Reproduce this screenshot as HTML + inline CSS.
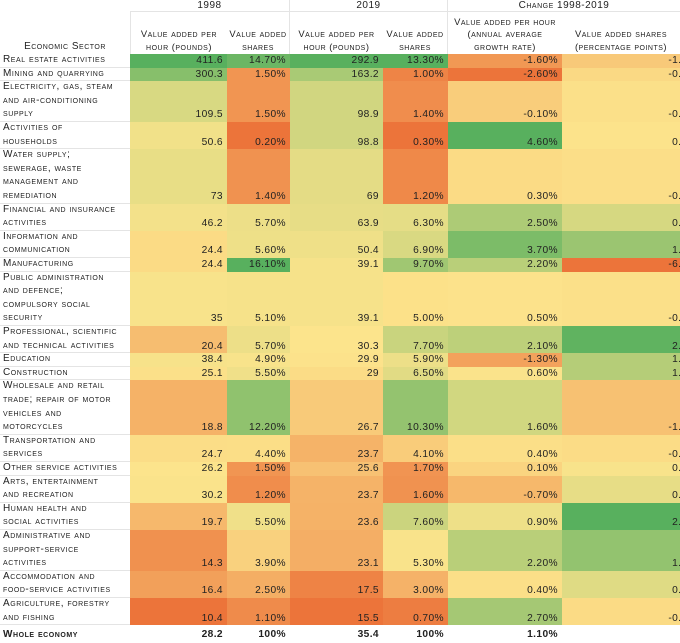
<!DOCTYPE html>
<html><head><meta charset="utf-8">
<style>
html,body{margin:0;padding:0;background:#fff;width:680px;height:643px;overflow:hidden;}
#wrap{position:relative;width:680px;height:643px;overflow:hidden;font-family:"Liberation Sans",sans-serif;color:#222;}
.c{position:absolute;box-sizing:border-box;white-space:nowrap;}
.lab{font-variant:small-caps;font-size:10px;line-height:13.6px;letter-spacing:0.55px;padding-left:3px;display:flex;align-items:flex-end;border-bottom:1px solid #e4e4e4;}
.num{font-size:10.2px;line-height:13.6px;text-align:right;padding-right:4px;display:flex;align-items:flex-end;justify-content:flex-end;letter-spacing:0.4px;}
.hd{font-variant:small-caps;font-size:9.4px;line-height:12.5px;letter-spacing:0.5px;text-align:center;display:flex;align-items:flex-end;justify-content:center;padding-bottom:1px;}
.top{font-size:10px;line-height:12px;padding:0;align-items:center;}
.bold{font-weight:bold;}
</style></head><body>
<div id="wrap"></div>
<script>
const sectors=["Real estate activities","Mining and quarrying","Electricity, gas, steam<br>and air-conditioning<br>supply","Activities of<br>households","Water supply;<br>sewerage, waste<br>management and<br>remediation","Financial and insurance<br>activities","Information and<br>communication","Manufacturing","Public administration<br>and defence;<br>compulsory social<br>security","Professional, scientific<br>and technical activities","Education","Construction","Wholesale and retail<br>trade; repair of motor<br>vehicles and<br>motorcycles","Transportation and<br>services","Other service activities","Arts, entertainment<br>and recreation","Human health and<br>social activities","Administrative and<br>support-service<br>activities","Accommodation and<br>food-service activities","Agriculture, forestry<br>and fishing"];
const vaph1998=[411.6,300.3,109.5,50.6,73,46.2,24.4,24.4,35,20.4,38.4,25.1,18.8,24.7,26.2,30.2,19.7,14.3,16.4,10.4];
const share1998=[14.7,1.5,1.5,0.2,1.4,5.7,5.6,16.1,5.1,5.7,4.9,5.5,12.2,4.4,1.5,1.2,5.5,3.9,2.5,1.1];
const vaph2019=[292.9,163.2,98.9,98.8,69,63.9,50.4,39.1,39.1,30.3,29.9,29,26.7,23.7,25.6,23.7,23.6,23.1,17.5,15.5];
const share2019=[13.3,1.0,1.4,0.3,1.2,6.3,6.9,9.7,5.0,7.7,5.9,6.5,10.3,4.1,1.7,1.6,7.6,5.3,3.0,0.7];
const growth=[-1.6,-2.6,-0.1,4.6,0.3,2.5,3.7,2.2,0.5,2.1,-1.3,0.6,1.6,0.4,0.1,-0.7,0.9,2.2,0.4,2.7];
const shareChange=[-1.4,-0.5,-0.1,0.1,-0.2,0.6,1.3,-6.4,-0.1,2.0,1.0,1.0,-1.9,-0.3,0.2,0.4,2.1,1.4,0.5,-0.4];
const totals=["28.2","100%","35.4","100%","1.10%",""];

const W=document.getElementById('wrap');
const colX=[0,130,227,290,383,448,562,707];
const LH=13.6, top0=54;
function lines(s){return s.split('<br>').length;}
const lo=[236,116,58], mid=[252,228,140], hi=[88,176,94];
function mix(a,b,t){return 'rgb('+a.map((v,i)=>Math.round(v+(b[i]-v)*t)).join(',')+')';}
function scale(arr){
  const s=[...arr].sort((a,b)=>a-b);const n=s.length;
  const med=(s[n/2-1]+s[n/2])/2, mn=s[0], mx=s[n-1];
  return v=> v<=med? mix(lo,mid,(v-mn)/(med-mn||1)) : mix(mid,hi,(v-med)/(mx-med||1));
}
function cell(x,y,w,h,cls,html,name,bg){
  const d=document.createElement('div');d.className='c '+cls;
  d.style.left=x+'px';d.style.top=y+'px';d.style.width=w+'px';d.style.height=h+'px';
  if(bg)d.style.background=bg;d.innerHTML=html;
  
  
  W.appendChild(d);return d;
}
let h1=cell(130,0,160,12,'hd top','1998','header-1998');h1.style.borderBottom='1px solid #e4e4e4';h1.style.borderRight='1px solid #e4e4e4';h1.style.fontVariant='normal';
let h2=cell(290,0,158,12,'hd top','2019','header-2019');h2.style.borderBottom='1px solid #e4e4e4';h2.style.borderRight='1px solid #e4e4e4';h2.style.fontVariant='normal';
let h3=cell(448,0,232,12,'hd top','Change 1998-2019','header-change');h3.style.borderBottom='1px solid #e4e4e4';
cell(0,12,130,42,'hd','Economic Sector','header-economic-sector').style.fontSize='10px';
const subs=["Value added per<br>hour (pounds)","Value added<br>shares","Value added per<br>hour (pounds)","Value added<br>shares","Value added per hour<br>(annual average<br>growth rate)","Value added shares<br>(percentage points)"];
const subNames=["header-vaph-1998","header-share-1998","header-vaph-2019","header-share-2019","header-growth-change","header-share-change"];
const subW=[97,63,93,65,114,118];
for(let j=0;j<6;j++){const d=cell(colX[j+1],12,subW[j],42,'hd',subs[j],subNames[j]);d.style.borderRight=(j==1||j==3)?'1px solid #e4e4e4':'none';d.style.borderLeft=(j==0)?'1px solid #e4e4e4':'none';}
const cols=[vaph1998,share1998,vaph2019,share2019,growth,shareChange];
const fmt=[v=>String(v),v=>v.toFixed(2)+'%',v=>String(v),v=>v.toFixed(2)+'%',v=>v.toFixed(2)+'%',v=>v.toFixed(2)+'%'];
const scales=cols.map(scale);
const colNames=["vaph-1998","share-1998","vaph-2019","share-2019","growth","share-change"];
let y=top0;
sectors.forEach((s,i)=>{
  const h=lines(s)*LH;
  cell(0,y,130,h,'lab','<span>'+s+'</span>','sector-label');
  for(let j=0;j<6;j++){
    cell(colX[j+1],y,colX[j+2]-colX[j+1],h,'num',fmt[j](cols[j][i]),'cell-'+colNames[j],scales[j](cols[j][i]));
  }
  y+=h;
});
const t=cell(0,y,130,16,'lab bold','<span>Whole economy</span>','whole-economy-label');t.style.borderBottom='none';
for(let j=0;j<6;j++){cell(colX[j+1],y,colX[j+2]-colX[j+1],16,'num bold',totals[j],'total-'+colNames[j]);}
</script>
</body></html>
